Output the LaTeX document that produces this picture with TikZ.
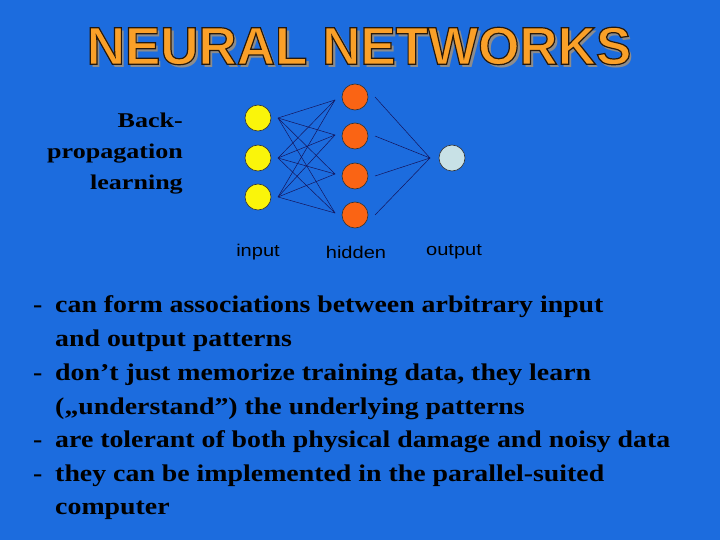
\documentclass[tikz,border=0pt]{standalone}
\usepackage{fontspec}
\setmainfont{Liberation Serif}
\newfontfamily\arialf{Liberation Sans}
\definecolor{bg}{RGB}{28,108,222}
\definecolor{ttl}{RGB}{250,160,40}
\definecolor{hid}{RGB}{250,100,20}
\definecolor{inp}{RGB}{250,245,10}
\definecolor{outc}{RGB}{200,225,230}
\definecolor{wire}{RGB}{20,20,90}
\begin{document}
\begin{tikzpicture}[x=1pt,y=-1pt,
  neuron/.style={circle,draw=black!80,line width=0.6pt,minimum size=26pt,inner sep=0pt},
  wirel/.style={draw=wire,line width=0.5pt},
  lab/.style={font=\arialf\fontsize{17}{20}\selectfont,text=black,xscale=1.18,transform shape},
  bul/.style={anchor=base west,font=\bfseries\fontsize{24}{28}\selectfont,text=black,inner sep=0pt,xscale=1.16,transform shape}]
\fill[bg] (0,0) rectangle (720,540);
\useasboundingbox (0,0) rectangle (720,540);
% title
\node[text=black!45,font=\arialf\bfseries\fontsize{53}{60}\selectfont] (tsh) at (362,49) {NEURAL NETWORKS};
\node[font=\arialf\bfseries\fontsize{53}{60}\selectfont,text=ttl] (title) at (359,46) {\special{pdf:literal direct 2 Tr 1.2 w 0.15 0.1 0.05 RG}NEURAL NETWORKS\special{pdf:literal direct 0 Tr}};
% side text
\node[align=right,anchor=north east,font=\bfseries\fontsize{21}{31}\selectfont,inner sep=0pt,xscale=1.24,transform shape] (side) at (183,113) {Back-\\propagation\\learning};
% neurons
\foreach \i/\y in {1/118,2/158,3/197} \node[neuron,fill=inp] (i\i) at (258,\y) {};
\foreach \i/\y in {1/97,2/136,3/176,4/215} \node[neuron,fill=hid] (h\i) at (355,\y) {};
\node[neuron,fill=outc] (o) at (452,158) {};
\foreach \i/\y in {1/118,2/158,3/197} \coordinate (ia\i) at (278,\y);
\foreach \i/\y in {1/100,2/135,3/174,4/213} \coordinate (hb\i) at (335,\y);
\foreach \i/\y in {1/97,2/136,3/176,4/215} \coordinate (ha\i) at (375,\y);
\coordinate (ob) at (430,158);
\foreach \i in {1,2,3} \foreach \j in {1,2,3,4} \draw[wirel] (ia\i) -- (hb\j);
\foreach \j in {1,2,3,4} \draw[wirel] (ha\j) -- (ob);
\node[lab] (li) at (258,252) {input};
\node[lab] (lh) at (356,252) {hidden};
\node[lab] (lo) at (454,252) {output};
% bullets
\foreach \n/\y/\d/\t in {
 b1/312/-/{can form associations between arbitrary input},
 b2/346//{and output patterns},
 b3/380/-/{don’t just memorize training data, they learn},
 b4/414//{(„understand”) the underlying patterns},
 b5/447/-/{are tolerant of both physical damage and noisy data},
 b6/481/-/{they can be implemented in the parallel-suited},
 b7/514//{computer}} {
 \node[bul] (d\n) at (33,\y) {\d};
 \node[bul] (\n) at (55,\y) {\t};
}
\end{tikzpicture}
\end{document}
